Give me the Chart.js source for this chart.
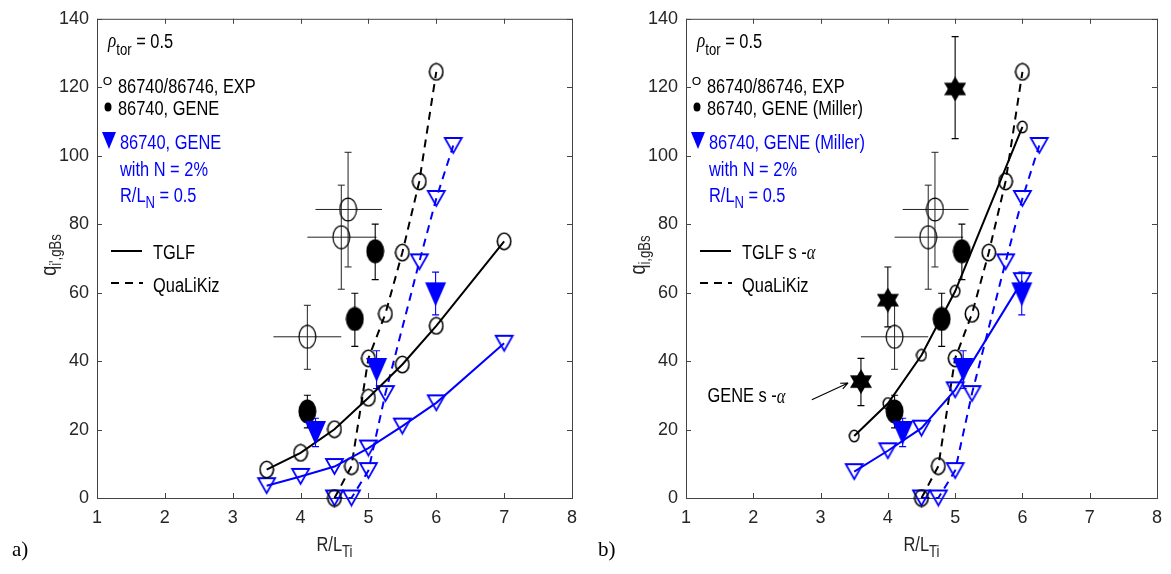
<!DOCTYPE html>
<html>
<head>
<meta charset="utf-8">
<script src="https://cdn.jsdelivr.net/npm/chart.js@4.4.1/dist/chart.umd.min.js"></script>
<style>
  body { margin: 0; background: #fff; width: 1171px; height: 574px; position: relative; overflow: hidden; }
  canvas { position: absolute; top: 0; }
  #chartA { left: 0; }
  #chartB { left: 586px; }
</style>
</head>
<body>
<canvas id="chartA" width="586" height="574"></canvas>
<canvas id="chartB" width="585" height="574"></canvas>
<script>
// ---- data (R/L_Ti , q_i,gBs) ----
const xRange = [1, 8];
const yRange = [0, 140];

// panel a) TGLF, and TGLF with N
const tglfX = [3.5, 4, 4.5, 5, 5.5, 6, 7];
const tglfQ = [8.3, 13.2, 20.1, 29.3, 39, 50.3, 75];
const tglfNX = [3.5, 4, 4.5, 5, 5.5, 6, 7];
const tglfNQ = [3.6, 6.3, 9.2, 14.6, 21, 27.8, 45.2];

// panel b) TGLF s-alpha, and with N
const tglfSaX = [3.5, 4, 4.5, 5, 6];
const tglfSaQ = [18.1, 27.6, 41.7, 60.4, 108.4];
const tglfSaNX = [3.5, 4, 4.5, 5, 6];
const tglfSaNQ = [7.7, 13.8, 20.4, 31.6, 63.5];

// QuaLiKiz (both panels)
const qlkX = [4.5, 4.75, 5, 5.25, 5.5, 5.75, 6];
const qlkQ = [0, 9.3, 40.8, 53.8, 71.7, 92.5, 124.5];
const qlkNX = [4.5, 4.75, 5, 5.25, 5.75, 6, 6.25];
const qlkNQ = [0, 0, 8, 30.5, 69, 87.5, 103];

// experiment with error bars
const expX = [4.1, 4.6, 4.7];
const expQ = [47.1, 76.2, 84.3];
const expXLo = [3.6, 4.1, 4.22];
const expXHi = [4.6, 5.12, 5.2];
const expQLo = [37.6, 61, 67.5];
const expQHi = [56.3, 91.4, 101];

// GENE
const geneX = [4.1, 4.8, 5.1];
const geneQ = [25.3, 52.3, 72.1];
const geneLo = [20.5, 44.3, 63.8];
const geneHi = [30, 59.8, 80];

// GENE with N = 2%
const geneNX = [4.22, 5.12, 5.99];
const geneNQ = [19, 37.4, 59.5];
const geneNLo = [15, 32, 53.5];
const geneNHi = [23.3, 43, 66];

// GENE s-alpha (panel b)
const geneSaX = [3.6, 4.0, 5.0];
const geneSaQ = [34, 57.8, 119.5];
const geneSaLo = [27, 50, 105];
const geneSaHi = [40.8, 67.5, 134.8];

const BLUE = '#0000ff';
const SANS = '"Liberation Sans Narrow", "Liberation Sans", Arial, sans-serif';
const SERIF = '"Liberation Serif", "DejaVu Serif", serif';
const SQUEEZE = 0.82; // matlab text is narrow helvetica

// ---- marker images ----
function mk(w, h, draw) {
  const c = document.createElement('canvas');
  c.width = w; c.height = h;
  draw(c.getContext('2d'), w, h);
  return c;
}
const ring = (w, h, lw, col) => mk(w, h, (g) => {
  g.strokeStyle = col; g.lineWidth = lw;
  g.beginPath();
  g.ellipse(w / 2, h / 2, w / 2 - lw / 2 - 0.5, h / 2 - lw / 2 - 0.5, 0, 0, Math.PI * 2);
  g.stroke();
});
const disc = (w, h, col) => mk(w, h, (g) => {
  g.fillStyle = col;
  g.beginPath();
  g.ellipse(w / 2, h / 2, w / 2 - 0.5, h / 2 - 0.5, 0, 0, Math.PI * 2);
  g.fill();
});
const triDown = (w, h, lw, col, filled) => mk(w + 4, h + 4, (g) => {
  g.strokeStyle = col; g.fillStyle = col; g.lineWidth = lw;
  g.beginPath();
  g.moveTo(2, 2); g.lineTo(w + 2, 2); g.lineTo(w / 2 + 2, h + 2); g.closePath();
  if (filled) g.fill(); else g.stroke();
});
const hexStar = (w, h, col) => mk(w, h, (g) => {
  g.fillStyle = col;
  g.beginPath();
  g.moveTo(w / 2, 0); g.lineTo(w, h * 0.75); g.lineTo(0, h * 0.75); g.closePath();
  g.fill();
  g.beginPath();
  g.moveTo(w / 2, h); g.lineTo(w, h * 0.25); g.lineTo(0, h * 0.25); g.closePath();
  g.fill();
});

const mBigRing = ring(16, 19, 1.6, '#000');
const mSmallRing = ring(12, 14, 1.5, '#000');
const mExp = ring(19, 25, 1.2, '#000');
const mGene = disc(19, 25, '#000');
const mTriOpen = triDown(17, 15, 1.8, BLUE, false);
const mTriFill = triDown(21, 24, 1, BLUE, true);
const mStar = hexStar(22, 25, '#000');

const pts = (xs, ys) => xs.map((x, i) => ({ x: x, y: ys[i] }));

function series(xs, ys, img, opts) {
  return Object.assign({
    data: pts(xs, ys),
    showLine: false,
    pointStyle: img,
    pointRadius: 5,
    borderColor: '#000',
    borderWidth: 2,
    clip: false
  }, opts || {});
}

// ---- plugins ----
const framePlugin = {
  id: 'frame',
  beforeDatasetsDraw(chart) {
    const { ctx, chartArea: a, scales } = chart;
    ctx.save();
    ctx.strokeStyle = '#444';
    ctx.lineWidth = 1;
    ctx.strokeRect(a.left + 0.5, a.top + 0.5, a.right - a.left, a.bottom - a.top);
    ctx.beginPath();
    for (let v = xRange[0]; v <= xRange[1]; v++) {
      const px = Math.round(scales.x.getPixelForValue(v)) + 0.5;
      ctx.moveTo(px, a.bottom); ctx.lineTo(px, a.bottom - 5);
      ctx.moveTo(px, a.top); ctx.lineTo(px, a.top + 5);
    }
    for (let v = yRange[0]; v <= yRange[1]; v += 20) {
      const py = Math.round(scales.y.getPixelForValue(v)) + 0.5;
      ctx.moveTo(a.left, py); ctx.lineTo(a.left + 5, py);
      ctx.moveTo(a.right, py); ctx.lineTo(a.right - 5, py);
    }
    ctx.stroke();
    ctx.restore();
  }
};

const errPlugin = {
  id: 'errbars',
  beforeDatasetsDraw(chart, args, opts) {
    const { ctx, scales } = chart;
    ctx.save();
    (opts.sets || []).forEach((s) => {
      ctx.strokeStyle = s.color;
      ctx.lineWidth = s.lw || 1.1;
      ctx.beginPath();
      s.x.forEach((x, i) => {
        const px = scales.x.getPixelForValue(x);
        const lo = scales.y.getPixelForValue(s.lo[i]);
        const hi = scales.y.getPixelForValue(s.hi[i]);
        ctx.moveTo(px, lo); ctx.lineTo(px, hi);
        ctx.moveTo(px - 3.5, lo); ctx.lineTo(px + 3.5, lo);
        ctx.moveTo(px - 3.5, hi); ctx.lineTo(px + 3.5, hi);
        if (s.xlo) {
          const py = scales.y.getPixelForValue(s.y[i]);
          ctx.moveTo(scales.x.getPixelForValue(s.xlo[i]), py);
          ctx.lineTo(scales.x.getPixelForValue(s.xhi[i]), py);
        }
      });
      ctx.stroke();
    });
    ctx.restore();
  }
};

// draw text pieces in a row: [text, size, dy, style, family]
function rich(ctx, parts, x, y, color, center, sx) {
  sx = sx || SQUEEZE;
  ctx.save();
  ctx.fillStyle = color;
  ctx.textBaseline = 'middle';
  ctx.textAlign = 'left';
  let w = 0;
  parts.forEach((p) => { ctx.font = (p[3] || '') + ' ' + p[1] + 'px ' + (p[4] || SANS); w += ctx.measureText(p[0]).width; });
  ctx.translate(center ? x - w * sx / 2 : x, y);
  ctx.scale(sx, 1);
  let cx = 0;
  parts.forEach((p) => {
    ctx.font = (p[3] || '') + ' ' + p[1] + 'px ' + (p[4] || SANS);
    ctx.fillText(p[0], cx, p[2]);
    cx += ctx.measureText(p[0]).width;
  });
  ctx.restore();
}

const textPlugin = {
  id: 'texts',
  afterDraw(chart, args, o) {
    const { ctx, chartArea: a, scales } = chart;
    const L = a.left;
    ctx.save();
    // axis titles
    rich(ctx, [['R/L', 20, 0], ['Ti', 16, 8]], (a.left + a.right) / 2, 545, '#262626', true);
    ctx.save();
    ctx.translate(L - 47, 255);
    ctx.rotate(-Math.PI / 2);
    rich(ctx, [['q', 22, 0], [o.ysub, 16, 7]], 0, 0, '#262626', true);
    ctx.restore();
    rich(ctx, [[o.tag, 21, 0, '', SERIF]], 12, 550, '#000', false, 1);

    // legend block
    rich(ctx, [['\u03c1', 21, -1, 'italic', SERIF], ['tor', 16, 9], [' = 0.5', 20, 0]], L + 11, 42, '#000', false);

    ctx.strokeStyle = '#000'; ctx.lineWidth = 1.2;
    ctx.beginPath(); ctx.arc(L + 10.5, 81, 3.5, 0, Math.PI * 2); ctx.stroke();
    rich(ctx, [['86740/86746, EXP', 20, 0]], L + 21, 87, '#000', false);

    ctx.fillStyle = '#000';
    ctx.beginPath(); ctx.ellipse(L + 11, 107, 3.5, 4.5, 0, 0, Math.PI * 2); ctx.fill();
    rich(ctx, [[o.geneLabel, 20, 0]], L + 21, 109, '#000', false);

    ctx.fillStyle = BLUE;
    ctx.beginPath(); ctx.moveTo(L + 5, 132); ctx.lineTo(L + 19, 132); ctx.lineTo(L + 12, 149); ctx.closePath(); ctx.fill();
    rich(ctx, [[o.geneLabel, 20, 0]], L + 23, 143, BLUE, false);
    rich(ctx, [['with N = 2%', 20, 0]], L + 23, 170, BLUE, false);
    rich(ctx, [['R/L', 20, 0], ['N', 16, 8], [' = 0.5', 20, 0]], L + 23, 196, BLUE, false);

    ctx.strokeStyle = '#000'; ctx.lineWidth = 2;
    ctx.beginPath(); ctx.moveTo(L + 14, 251); ctx.lineTo(L + 45, 251); ctx.stroke();
    rich(ctx, o.tglfLabel, L + 56, 253, '#000', false);
    ctx.setLineDash([8, 6]);
    ctx.beginPath(); ctx.moveTo(L + 14, 283); ctx.lineTo(L + 46, 283); ctx.stroke();
    ctx.setLineDash([]);
    rich(ctx, [['QuaLiKiz', 20, 0]], L + 56, 286, '#000', false);

    // annotation arrow to GENE s-alpha
    if (o.arrow) {
      const x = scales.x, y = scales.y;
      const hx = x.getPixelForValue(3.41), hy = y.getPixelForValue(33.6);
      const tx = x.getPixelForValue(2.87), ty = y.getPixelForValue(28.7);
      ctx.strokeStyle = '#000'; ctx.lineWidth = 1.1;
      ctx.beginPath(); ctx.moveTo(tx, ty); ctx.lineTo(hx, hy);
      const ang = Math.atan2(hy - ty, hx - tx);
      ctx.moveTo(hx, hy); ctx.lineTo(hx - 8 * Math.cos(ang - 0.4), hy - 8 * Math.sin(ang - 0.4));
      ctx.moveTo(hx, hy); ctx.lineTo(hx - 8 * Math.cos(ang + 0.4), hy - 8 * Math.sin(ang + 0.4));
      ctx.stroke();
      rich(ctx, [['GENE s -', 20, 0], ['\u03b1', 20, 1, 'italic', SERIF]], x.getPixelForValue(1.32), y.getPixelForValue(29.6), '#000', false);
    }
    ctx.restore();
  }
};

function makeChart(id, yWidth, padRight, datasets, errSets, texts) {
  const tickFont = { family: SANS, size: 18 };
  return new Chart(document.getElementById(id), {
    type: 'scatter',
    data: { datasets: datasets },
    options: {
      responsive: false,
      animation: false,
      devicePixelRatio: 1,
      layout: { padding: { top: 11, right: padRight, left: 0, bottom: 0 } },
      plugins: {
        legend: { display: false },
        tooltip: { enabled: false },
        errbars: { sets: errSets },
        texts: texts
      },
      scales: {
        x: {
          type: 'linear', min: xRange[0], max: xRange[1],
          ticks: { stepSize: 1, font: tickFont, color: '#262626', padding: 9, maxRotation: 0 },
          grid: { display: false, drawTicks: false },
          border: { display: false },
          afterFit: (s) => { s.height = 76; }
        },
        y: {
          type: 'linear', min: yRange[0], max: yRange[1],
          ticks: { stepSize: 20, font: tickFont, color: '#262626', padding: 8 },
          grid: { display: false, drawTicks: false },
          border: { display: false },
          afterFit: (s) => { s.width = yWidth; }
        }
      }
    },
    plugins: [framePlugin, errPlugin, textPlugin]
  });
}

const sharedErr = [
  { x: expX, y: expQ, lo: expQLo, hi: expQHi, xlo: expXLo, xhi: expXHi, color: '#222', lw: 1 },
  { x: geneX, lo: geneLo, hi: geneHi, color: '#000' },
  { x: geneNX, lo: geneNLo, hi: geneNHi, color: BLUE }
];

// panel a
makeChart('chartA', 97, 13, [
  series(geneNX, geneNQ, mTriFill),
  series(geneX, geneQ, mGene),
  series(expX, expQ, mExp),
  series(tglfX, tglfQ, mBigRing, { showLine: true, borderColor: '#000' }),
  series(tglfNX, tglfNQ, mTriOpen, { showLine: true, borderColor: BLUE }),
  series(qlkX, qlkQ, mBigRing, { showLine: true, borderColor: '#000', borderDash: [8, 6] }),
  series(qlkNX, qlkNQ, mTriOpen, { showLine: true, borderColor: BLUE, borderDash: [8, 6] })
], sharedErr, {
  ysub: "i',gBs", tag: 'a)', geneLabel: '86740, GENE',
  tglfLabel: [['TGLF', 20, 0]], arrow: false
});

// panel b
makeChart('chartB', 100, 9, [
  series(geneNX, geneNQ, mTriFill),
  series(geneX, geneQ, mGene),
  series(geneSaX, geneSaQ, mStar),
  series(expX, expQ, mExp),
  series(tglfSaX, tglfSaQ, mSmallRing, { showLine: true, borderColor: '#000' }),
  series(tglfSaNX, tglfSaNQ, mTriOpen, { showLine: true, borderColor: BLUE }),
  series(qlkX, qlkQ, mBigRing, { showLine: true, borderColor: '#000', borderDash: [8, 6] }),
  series(qlkNX, qlkNQ, mTriOpen, { showLine: true, borderColor: BLUE, borderDash: [8, 6] })
], sharedErr.concat([{ x: geneSaX, lo: geneSaLo, hi: geneSaHi, color: '#000' }]), {
  ysub: 'i,gBs', tag: 'b)', geneLabel: '86740, GENE (Miller)',
  tglfLabel: [['TGLF s -', 20, 0], ['\u03b1', 20, 1, 'italic', SERIF]], arrow: true
});
</script>
</body>
</html>
